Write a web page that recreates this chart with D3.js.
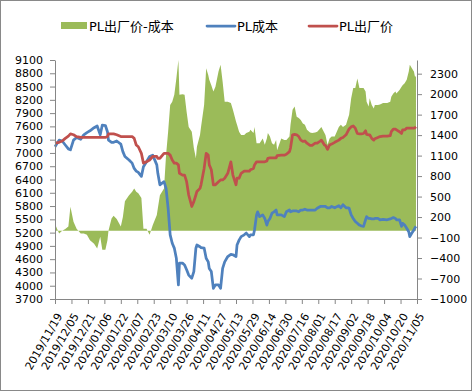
<!DOCTYPE html>
<html>
<head>
<meta charset="utf-8">
<script src="https://cdnjs.cloudflare.com/ajax/libs/d3/7.8.5/d3.min.js"></script>
<style>
  body { margin:0; background:#ffffff; }
  svg text { font-family:"DejaVu Sans","Noto Sans CJK SC",sans-serif; fill:#000000; }
</style>
</head>
<body>
<div id="chart_svg_container"></div>
<script>
var date_array = [
  "2019/11/19","2019/11/23","2019/11/26","2019/11/29","2019/12/02","2019/12/04","2019/12/07","2019/12/10",
  "2019/12/14","2019/12/17","2019/12/20","2019/12/23","2019/12/27","2019/12/30","2020/01/02","2020/01/04",
  "2020/01/07","2020/01/09","2020/01/10","2020/01/13","2020/01/15","2020/01/18","2020/01/22","2020/01/24",
  "2020/01/26","2020/01/30","2020/02/02","2020/02/04","2020/02/06","2020/02/08","2020/02/11","2020/02/13",
  "2020/02/16","2020/02/19","2020/02/22","2020/02/26","2020/02/27","2020/02/29","2020/03/04","2020/03/06",
  "2020/03/08","2020/03/10","2020/03/12","2020/03/14","2020/03/16","2020/03/18","2020/03/19","2020/03/22",
  "2020/03/24","2020/03/26","2020/03/28","2020/03/31","2020/04/02","2020/04/04","2020/04/05","2020/04/08",
  "2020/04/09","2020/04/12","2020/04/14","2020/04/16","2020/04/17","2020/04/19","2020/04/21","2020/04/23",
  "2020/04/26","2020/04/28","2020/04/30","2020/05/02","2020/05/05","2020/05/08","2020/05/10","2020/05/13",
  "2020/05/14","2020/05/16","2020/05/18","2020/05/21","2020/05/23","2020/05/26","2020/05/27","2020/05/30",
  "2020/05/31","2020/06/02","2020/06/03","2020/06/05","2020/06/08","2020/06/10","2020/06/12","2020/06/13",
  "2020/06/15","2020/06/17","2020/06/19","2020/06/21","2020/06/22","2020/06/26","2020/06/29","2020/07/01",
  "2020/07/04","2020/07/05","2020/07/07","2020/07/09","2020/07/11","2020/07/13","2020/07/15","2020/07/17",
  "2020/07/19","2020/07/21","2020/07/24","2020/07/26","2020/07/29","2020/07/31","2020/08/03","2020/08/04",
  "2020/08/07","2020/08/08","2020/08/10","2020/08/12","2020/08/14","2020/08/17","2020/08/21","2020/08/23",
  "2020/08/25","2020/08/28","2020/08/30","2020/08/31","2020/09/02","2020/09/04","2020/09/06","2020/09/08",
  "2020/09/10","2020/09/12","2020/09/14","2020/09/16","2020/09/17","2020/09/19","2020/09/20","2020/09/22",
  "2020/09/24","2020/09/25","2020/09/28","2020/09/30","2020/10/03","2020/10/07","2020/10/10","2020/10/11",
  "2020/10/13","2020/10/15","2020/10/16","2020/10/19","2020/10/21","2020/10/22","2020/10/24","2020/10/26",
  "2020/10/28","2020/10/29","2020/10/31","2020/11/02","2020/11/03","2020/11/04"
];

// PL成本 (left axis).
var cost_array = [
  7140,7290,7270,7180,7090,7070,7290,7350, 7310,7410,7460,7500,7570,7610,7410,7630,
  7620,7480,7290,7240,7240,7270,7200,7030, 6920,6840,6770,6650,6590,6560,6470,6690,
  6800,6920,6950,6730,6540,6280,6350,6200, 5750,5150,4960,4850,4620,4020,4510,4510,
  4470,4360,4240,4170,4320,4850,4920,4880, 4860,4850,4620,4540,4390,4320,3940,4020,
  4020,3940,4390,4540,4660,4710,4700,4660, 4920,5030,5110,5150,5190,5110,5150,5150,
  5260,5600,5670,5560,5600,5520,5370,5450, 5520,5640,5670,5710,5600,5600,5560,5670,
  5710,5670,5690,5690,5690,5670,5710,5710, 5730,5710,5710,5710,5710,5750,5790,5790,
  5790,5790,5760,5760,5790,5760,5810,5760, 5830,5760,5760,5750,5600,5520,5450,5410,
  5370,5350,5340,5490,5560,5520,5520,5510, 5510,5520,5520,5490,5500,5490,5510,5520,
  5540,5520,5490,5490,5340,5410,5370,5300, 5220,5110,5190,5260,5310,5340
];

// PL出厂价 (left axis).
var price_array = [
  7220,7240,7270,7330,7380,7430,7410,7370, 7350,7350,7350,7350,7350,7350,7350,7350,
  7350,7370,7430,7430,7430,7410,7370,7370, 7370,7370,7370,7330,7180,7140,6990,6770,
  6800,6840,6920,6920,6880,6880,6990,6990, 6990,6950,6840,6770,6770,6730,6540,6500,
  6500,6350,6050,5790,5900,6050,6130,6200, 6280,6650,6990,6950,6730,6620,6280,6280,
  6350,6390,6390,6430,6540,6800,6500,6280, 6430,6430,6540,6590,6590,6590,6620,6650,
  6730,6800,6800,6800,6800,6800,6820,6880, 6890,6890,6890,6890,6940,6950,6950,6970,
  7030,7110,7410,7420,7410,7370,7290,7260, 7270,7220,7170,7170,7220,7220,7270,7290,
  7180,7170,7080,7180,7200,7240,7290,7330, 7350,7410,7500,7540,7590,7610,7560,7440,
  7430,7430,7440,7500,7420,7410,7410,7330, 7290,7320,7350,7370,7380,7380,7390,7480,
  7540,7540,7520,7480,7440,7520,7520,7560, 7560,7560,7560,7560,7570,7590
];

// PL出厂价-成本 (right axis).
var spread_array = [
  100,-40,0,25,60,350,130,30, -40,-40,-60,-140,-190,-260,-90,-280,
  -280,-140,0,180,220,170,60,200, 430,520,570,620,570,550,480,30,
  30,-60,80,230,330,520,620,1110, 1450,1840,1890,1990,2230,2500,1990,2000,
  1990,1740,1520,1450,1210,1060,1230,1400, 1520,1840,2380,2280,2210,2130,2040,2110,
  2330,2430,2180,1890,1890,1870,1770,1600, 1550,1450,1400,1400,1430,1450,1480,1430,
  1520,1280,1280,1280,1350,1260,1350,1430, 1380,1280,1260,1330,1180,1350,1330,1330,
  1380,1550,1770,1820,1670,1650,1620,1570, 1550,1480,1440,1430,1440,1450,1500,1520,
  1430,1400,1260,1350,1380,1380,1520,1550, 1520,1550,1650,1700,1940,2090,2090,2230,
  2090,2090,2090,2040,1890,1820,1940,1840, 1790,1840,1840,1850,1870,1870,1890,1960,
  2010,2040,2010,2060,2110,2130,2160,2210, 2330,2430,2380,2330,2260,2260
];

var name_array      = ["PL出厂价-成本", "PL成本", "PL出厂价"];
var color_array     = ["#9bbb59", "#4f81bd", "#c0504d"];
var tick_date_array = [
  "2019/11/19","2019/12/05","2019/12/21","2020/01/06","2020/01/22","2020/02/07","2020/02/23","2020/03/10",
  "2020/03/26","2020/04/11","2020/04/27","2020/05/13","2020/05/29","2020/06/14","2020/06/30","2020/07/16",
  "2020/08/01","2020/08/17","2020/09/02","2020/09/18","2020/10/04","2020/10/20","2020/11/05"
];
var tick_left_array  = [3700,4000,4300,4600,4900,5200,5500,5800,6100,6400,6700,7000,7300,7600,7900,8200,8500,8800,9100];
var tick_right_array = [-1000,-700,-400,-100,200,500,800,1100,1400,1700,2000,2300];

var chart_dimension = { height:392,width:473 };
var plot_box        = { left:55,right:417,top:60,bottom:299 };
var axis_color      = "#868686";
var parse_date      = d3.timeParse("%Y/%m/%d");

var data_array = [];
for (var i = 0; i < date_array.length; i ++) {
  data_array.push({
    date   : parse_date(date_array[i]),
    cost   : cost_array[i],
    price  : price_array[i],
    spread : spread_array[i]
  });
}

var scale_x       = d3.scaleTime().domain([parse_date(tick_date_array[0]), parse_date(tick_date_array[tick_date_array.length - 1])]).range([plot_box.left, plot_box.right]);
var scale_y_left  = d3.scaleLinear().domain([3700, 9100]).range([plot_box.bottom, plot_box.top]);
var scale_y_right = d3.scaleLinear().domain([-1000, 2500]).range([plot_box.bottom, plot_box.top]);

var chart_svg = d3.select("#chart_svg_container").append("svg")
  .attr("height", chart_dimension.height)
  .attr("width", chart_dimension.width);

chart_svg.append("rect")
  .attr("x", 0.5)
  .attr("y", 0.5)
  .attr("width", chart_dimension.width - 2)
  .attr("height", chart_dimension.height - 2)
  .style("fill", "#ffffff")
  .style("stroke", "#898989");

// Spread area sits on the right axis, drawn first so the lines stay on top.
var spread_area = d3.area()
  .x (function (d) { return scale_x(d.date); })
  .y0(scale_y_right(0))
  .y1(function (d) { return scale_y_right(d.spread); });

chart_svg.append("path")
  .datum(data_array)
  .attr("d", spread_area)
  .style("fill", color_array[0])
  .style("stroke", "none");

var cost_line = d3.line()
  .x(function (d) { return scale_x(d.date); })
  .y(function (d) { return scale_y_left(d.cost); });

var price_line = d3.line()
  .x(function (d) { return scale_x(d.date); })
  .y(function (d) { return scale_y_left(d.price); });

chart_svg.append("path")
  .datum(data_array)
  .attr("d", cost_line)
  .style("fill", "none")
  .style("stroke", color_array[1])
  .style("stroke-width", 2.75)
  .style("stroke-linejoin", "round");

chart_svg.append("path")
  .datum(data_array)
  .attr("d", price_line)
  .style("fill", "none")
  .style("stroke", color_array[2])
  .style("stroke-width", 2.75)
  .style("stroke-linejoin", "round");

function style_axis (_axis_group) {
  _axis_group.selectAll("path").style("stroke", axis_color);
  _axis_group.selectAll("line").style("stroke", axis_color);
  _axis_group.selectAll("text").style("font-size", "11px").style("fill", "#000000");
}

var axis_left_group = chart_svg.append("g")
  .attr("transform", "translate(" + plot_box.left + ",0)")
  .call(d3.axisLeft(scale_y_left).tickValues(tick_left_array).tickSize(5).tickSizeOuter(0).tickPadding(7).tickFormat(d3.format("d")));
style_axis(axis_left_group);

var axis_right_group = chart_svg.append("g")
  .attr("transform", "translate(" + plot_box.right + ",0)")
  .call(d3.axisRight(scale_y_right).tickValues(tick_right_array).tickSize(5).tickSizeOuter(0).tickPadding(8).tickFormat(d3.format("d")));
style_axis(axis_right_group);

var axis_bottom_group = chart_svg.append("g")
  .attr("transform", "translate(0," + plot_box.bottom + ")")
  .call(d3.axisBottom(scale_x).tickValues(tick_date_array.map(parse_date)).tickSize(5).tickSizeOuter(0).tickFormat(d3.timeFormat("%Y/%m/%d")));
style_axis(axis_bottom_group);
axis_bottom_group.selectAll("text")
  .attr("x", 0)
  .attr("y", 0)
  .attr("dy", "0.35em")
  .attr("text-anchor", "end")
  .attr("transform", "translate(4,15) rotate(-60)");

// Legend.
var legend_y = 26;
var legend_item_array = [
  { x:61,  kind:"rect" },
  { x:207, kind:"line" },
  { x:309, kind:"line" }
];
for (var j = 0; j < legend_item_array.length; j ++) {
  var item = legend_item_array[j];
  if (item.kind == "rect") {
    chart_svg.append("rect")
      .attr("x", item.x)
      .attr("y", legend_y - 4)
      .attr("width", 26)
      .attr("height", 7)
      .style("fill", color_array[j]);
  }
  else {
    chart_svg.append("line")
      .attr("x1", item.x)
      .attr("x2", item.x + 28)
      .attr("y1", legend_y)
      .attr("y2", legend_y)
      .style("stroke", color_array[j])
      .style("stroke-width", 2.75)
      .style("stroke-linecap", "round");
  }
  chart_svg.append("text")
    .attr("x", item.x + (item.kind == "rect" ? 28 : 30))
    .attr("y", legend_y)
    .attr("dy", "0.35em")
    .style("font-size", "13px")
    .text(name_array[j]);
}
</script>
</body>
</html>
